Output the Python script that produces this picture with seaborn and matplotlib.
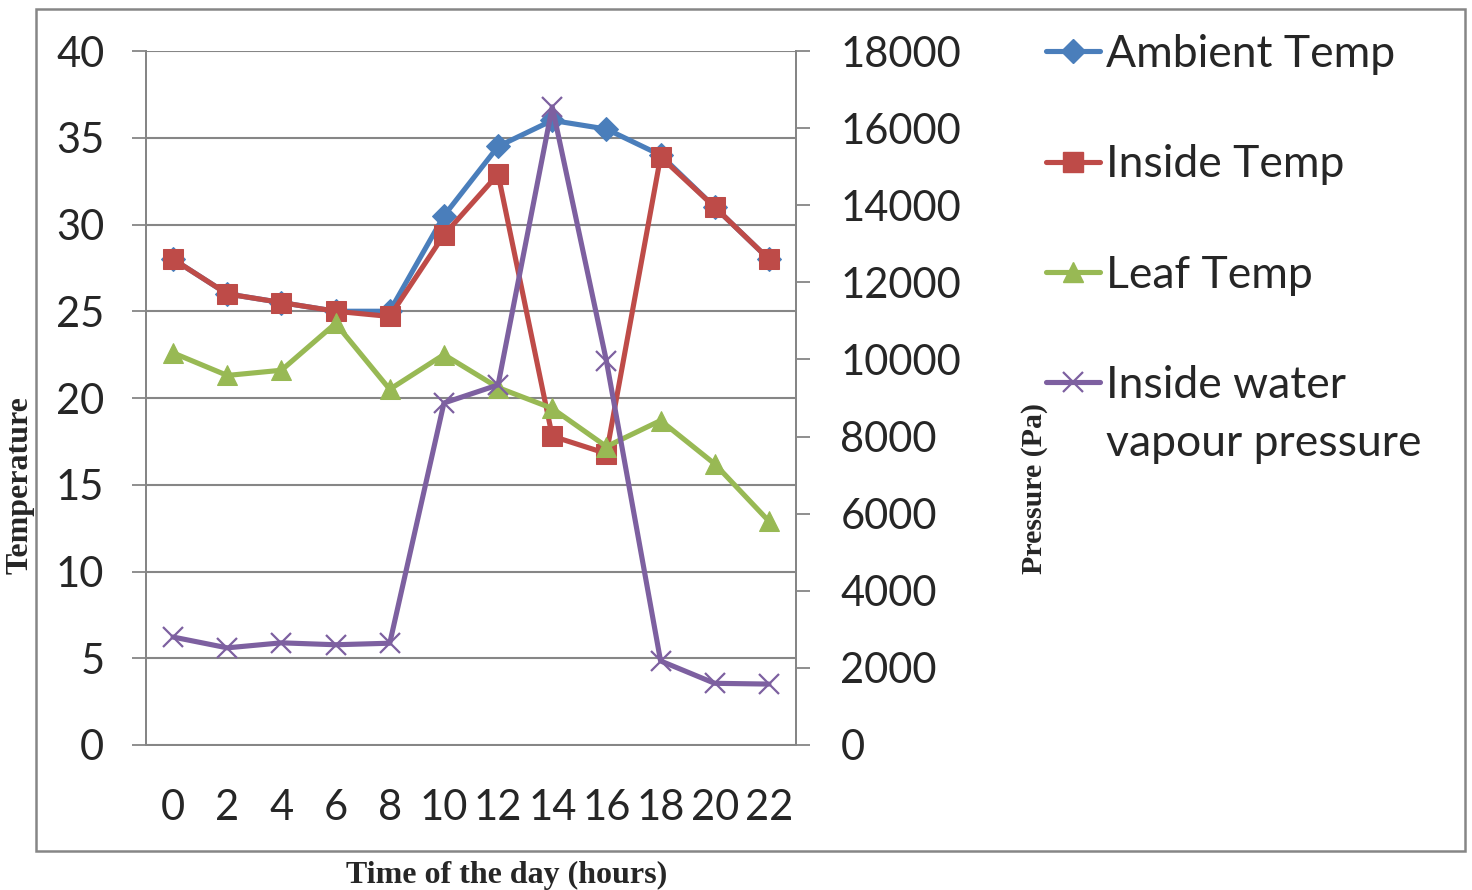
import matplotlib
matplotlib.use("Agg")
import matplotlib.pyplot as plt
import seaborn as sns
import pandas as pd
from matplotlib.patches import Rectangle
from matplotlib.lines import Line2D

hours = [0, 2, 4, 6, 8, 10, 12, 14, 16, 18, 20, 22]
ambient_temp = [28, 26, 25.5, 25, 25, 30.5, 34.5, 36, 35.5, 34, 31, 28]
inside_temp = [28, 26, 25.5, 25, 24.7, 29.4, 32.9, 17.8, 16.8, 33.9, 31, 28]
leaf_temp = [22.6, 21.3, 21.6, 24.3, 20.5, 22.5, 20.6, 19.4, 17.2, 18.7, 16.2, 12.9]
vapour_pressure = [2800, 2520, 2650, 2600, 2640, 8870, 9340, 16550, 9960, 2180, 1600, 1580]

labels = ["Ambient Temp", "Inside Temp", "Leaf Temp", "Inside water"]
label_tail = "vapour pressure"
colors = ["#4A7EBB", "#BE4B48", "#98B954", "#7D60A0"]
markers = ["D", "s", "^", "x"]
msizes = [12, 14, 15, 15]

sns.set_style("white")
plt.rcParams["font.family"] = ["Lato", "DejaVu Sans"]

W, H = 1472, 890
fig = plt.figure(figsize=(W / 100, H / 100), dpi=100)

x0, x1, y0, y1 = 146, 796, 51, 745
ax = fig.add_axes([x0 / W, 1 - y1 / H, (x1 - x0) / W, (y1 - y0) / H])
ax2 = ax.twinx()

pos = list(range(len(hours)))
df = pd.DataFrame({"pos": pos, "amb": ambient_temp, "ins": inside_temp,
                   "leaf": leaf_temp, "vap": vapour_pressure})

for col, c, m, ms in zip(["amb", "ins", "leaf"], colors[:3], markers[:3], msizes[:3]):
    sns.lineplot(data=df, x="pos", y=col, ax=ax, color=c, marker=m, markersize=ms,
                 markeredgecolor=c, linewidth=3.7, legend=False)
sns.lineplot(data=df, x="pos", y="vap", ax=ax2, color=colors[3], marker="x",
             markersize=msizes[3], markeredgecolor=colors[3], markeredgewidth=1.6,
             linewidth=3.7, legend=False)

grey = "#868686"
ax.set_xlim(-0.5, len(hours) - 0.5)
ax.set_ylim(0, 40)
ax.set_yticks(range(0, 41, 5))
ax2.set_ylim(0, 18000)
ax2.set_yticks(range(0, 18001, 2000))
ax.set_xticks([p - 0.5 for p in pos] + [len(hours) - 0.5])
ax.set_xticklabels([])
ax.set_xticks(pos, minor=True)
ax.set_xticklabels([str(h) for h in hours], minor=True)
ax.tick_params(axis="x", which="major", length=10, width=1.3, color=grey, direction="out")
ax.tick_params(axis="x", which="minor", length=0, pad=32, labelsize=30)
ax.tick_params(axis="y", length=10, width=1.3, color=grey, pad=20, labelsize=30, direction="out")
ax2.tick_params(axis="y", length=10, width=1.3, color=grey, pad=22, labelsize=30, direction="out")
ax.set_xlabel("")
ax.set_ylabel("")
ax2.set_ylabel("")
ax.grid(axis="y", color=grey, linewidth=1.5)
ax.grid(axis="x", visible=False)
ax2.grid(False)
for a in (ax, ax2):
    for s in a.spines.values():
        s.set_color(grey)
        s.set_linewidth(1.4)
    a.spines["top"].set_visible(False)

# outer chart border
fig.patches.append(Rectangle((36 / W, 1 - 851 / H), (1465 - 36) / W, (851 - 9) / H,
                             transform=fig.transFigure, fill=False, edgecolor=grey,
                             linewidth=1.8))

serif = ["Liberation Serif", "DejaVu Serif"]
fig.text(20 / W, 1 - 485 / H, "Temperature", rotation=90, ha="center", va="center",
         family=serif, fontweight="bold", fontsize=23)
fig.text(1035 / W, 1 - 488 / H, "Pressure (Pa)", rotation=90, ha="center", va="center",
         family=serif, fontweight="bold", fontsize=21.5)
fig.text(507 / W, 1 - 883 / H, "Time of the day (hours)", ha="center", va="baseline",
         family=serif, fontweight="bold", fontsize=23)

handles = [Line2D([], [], color=c, marker=m, markersize=ms, markeredgecolor=c,
                  linewidth=3.7, markeredgewidth=1.6 if m == "x" else 1)
           for c, m, ms in zip(colors, markers, msizes)]
leg = fig.legend(handles, labels, loc="upper left", bbox_to_anchor=(1046 / W, 1 - 34 / H),
                 frameon=False, fontsize=32, handlelength=1.22, handletextpad=0.12,
                 labelspacing=1.56, borderaxespad=0, borderpad=0)

# second line of the last legend label, placed under its first line
fig.canvas.draw()
last = leg.get_texts()[-1]
bb = last.get_window_extent(renderer=fig.canvas.get_renderer())
fig.text(bb.x0 / W, (bb.y0 - 58) / H, label_tail, ha="left", va="bottom", fontsize=32)

fig.savefig("out.png", dpi=100)
